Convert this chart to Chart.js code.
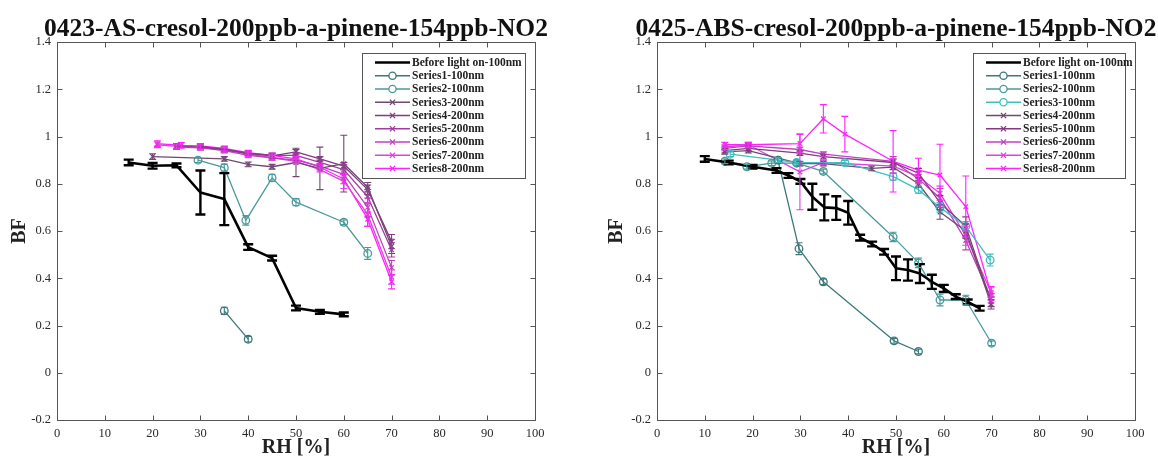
<!DOCTYPE html>
<html><head><meta charset="utf-8">
<script src="https://cdn.jsdelivr.net/npm/chart.js@4.4.1/dist/chart.umd.min.js"></script>
<style>
html,body{margin:0;padding:0;background:#fff;overflow:hidden}
#wrap{position:relative;width:1158px;height:464px}
canvas{position:absolute;top:0}
</style></head><body>
<div id="wrap">
<canvas id="c1" width="579" height="464" style="left:0"></canvas>
<canvas id="c2" width="579" height="464" style="left:579px"></canvas>
</div>
<script>
const FONT = '"Liberation Serif","Times New Roman",serif';

// ---- axis ticks ----
const xTickVals = [0,10,20,30,40,50,60,70,80,90,100];
const yTickVals = [-0.2,0,0.2,0.4,0.6,0.8,1,1.2,1.4];

// ---- titles / labels ----
const titleLeft  = '0423-AS-cresol-200ppb-a-pinene-154ppb-NO2';
const titleRight = '0425-ABS-cresol-200ppb-a-pinene-154ppb-NO2';
const xLabel = 'RH [%]';
const yLabel = 'BF';

// ---- LEFT chart data ----
const L_before_x = [15,20,25,30,35,40,45,50,55,60];
const L_before_y = [0.89,0.876,0.878,0.763,0.735,0.532,0.485,0.274,0.258,0.247];
const L_before_e = [0.012,0.012,0.008,0.093,0.11,0.012,0.01,0.01,0.008,0.008];

const L_s1_x = [35,40];
const L_s1_y = [0.262,0.142];
const L_s1_e = [0.015,0.012];

const L_s2_x = [29.5,35,39.5,45,50,60,65];
const L_s2_y = [0.9,0.868,0.645,0.825,0.722,0.637,0.505];
const L_s2_e = [0.01,0.015,0.02,0.015,0.015,0.01,0.025];

const L_s3_x = [20,35,40,45,50,55,60,65,70];
const L_s3_y = [0.915,0.905,0.882,0.872,0.89,0.865,0.885,0.785,0.535];
const L_s3_e = [0.012,0.01,0.01,0.01,0.06,0.09,0.12,0.02,0.03];

const L_s4_x = [30,35,40,45,50,55,60,65,70];
const L_s4_y = [0.958,0.945,0.928,0.918,0.935,0.905,0.875,0.775,0.555];
const L_s4_e = [0.01,0.01,0.01,0.01,0.01,0.01,0.015,0.02,0.03];

const L_s5_x = [25,30,35,40,45,50,55,60,65,70];
const L_s5_y = [0.96,0.955,0.945,0.93,0.92,0.92,0.89,0.86,0.745,0.52];
const L_s5_e = [0.01,0.01,0.01,0.01,0.01,0.01,0.01,0.02,0.03,0.03];

const L_s6_x = [25,30,35,40,45,50,55,60,65,70];
const L_s6_y = [0.955,0.952,0.94,0.92,0.91,0.9,0.875,0.84,0.70,0.445];
const L_s6_e = [0.01,0.01,0.01,0.01,0.01,0.01,0.01,0.02,0.04,0.03];

const L_s7_x = [21,25,30,35,40,45,50,55,60,65,70];
const L_s7_y = [0.965,0.958,0.955,0.944,0.925,0.91,0.895,0.86,0.81,0.67,0.405];
const L_s7_e = [0.012,0.01,0.01,0.01,0.01,0.01,0.01,0.01,0.03,0.05,0.03];

const L_s8_x = [21,26,30,35,40,45,50,55,60,65,70];
const L_s8_y = [0.97,0.962,0.96,0.95,0.932,0.92,0.905,0.87,0.82,0.65,0.385];
const L_s8_e = [0.012,0.012,0.01,0.01,0.01,0.01,0.01,0.01,0.02,0.03,0.03];

// ---- RIGHT chart data ----
const R_before_x = [10,15,20,25,27.5,30,32.5,35,37.5,40,42.5,45,47.5,50,52.5,55,57.5,60,62.5,65,67.5];
const R_before_y = [0.905,0.89,0.872,0.856,0.835,0.81,0.745,0.70,0.697,0.677,0.572,0.545,0.512,0.442,0.435,0.42,0.385,0.357,0.322,0.30,0.273];
const R_before_e = [0.012,0.008,0.008,0.01,0.01,0.01,0.055,0.055,0.05,0.05,0.012,0.01,0.012,0.05,0.045,0.04,0.03,0.015,0.01,0.01,0.01];

const R_s1_x = [25.3,29.7,34.8,49.6,54.7];
const R_s1_y = [0.9,0.525,0.385,0.135,0.09];
const R_s1_e = [0.01,0.025,0.012,0.01,0.01];

const R_s2_x = [14.2,18.8,24,29.2,34.8,49.4,54.7,59.2,64.6,70];
const R_s2_y = [0.895,0.872,0.887,0.887,0.852,0.575,0.465,0.308,0.308,0.125];
const R_s2_e = [0.01,0.01,0.01,0.01,0.01,0.02,0.02,0.025,0.02,0.01];

const R_s3_x = [15.3,25.4,29.2,39.3,49.4,54.7,59.2,64.6,69.7];
const R_s3_y = [0.925,0.9,0.89,0.889,0.83,0.775,0.70,0.62,0.477];
const R_s3_e = [0.01,0.01,0.01,0.01,0.015,0.015,0.02,0.02,0.025];

const R_s4_x = [14.2,19.1,29.9,34.8,44.9,49.4,54.7,59.2,64.6,69.9];
const R_s4_y = [0.935,0.94,0.885,0.885,0.865,0.87,0.80,0.68,0.60,0.29];
const R_s4_e = [0.01,0.01,0.01,0.01,0.01,0.01,0.015,0.03,0.03,0.02];

const R_s5_x = [14.2,19.1,29.9,34.8,49.4,54.7,59.2,64.6,69.9];
const R_s5_y = [0.94,0.95,0.93,0.915,0.89,0.845,0.72,0.62,0.30];
const R_s5_e = [0.01,0.01,0.01,0.01,0.015,0.02,0.03,0.04,0.02];

const R_s6_x = [14.2,19.1,29.9,34.8,49.4,54.7,59.2,64.6,69.9];
const R_s6_y = [0.95,0.96,0.945,0.925,0.895,0.82,0.74,0.56,0.315];
const R_s6_e = [0.01,0.01,0.01,0.01,0.02,0.02,0.04,0.04,0.02];

const R_s7_x = [14.2,19.1,29.9,34.8,49.4,54.7,59.2,64.6,69.9];
const R_s7_y = [0.955,0.965,0.85,0.89,0.875,0.83,0.76,0.58,0.34];
const R_s7_e = [0.01,0.01,0.16,0.01,0.03,0.02,0.03,0.04,0.02];

const R_s8_x = [14.2,19.1,29.9,34.8,39.3,49.4,54.7,59.2,64.6,69.9];
const R_s8_y = [0.965,0.965,0.97,1.075,1.01,0.895,0.858,0.837,0.703,0.335];
const R_s8_e = [0.01,0.01,0.04,0.06,0.075,0.13,0.05,0.13,0.13,0.03];

// ---- colours ----
const C_BLACK = '#000000';
const C_T1 = '#3d7878', C_T2 = '#4a9a9a', C_T3 = '#3fbfbf';
const C_P = ['#704870','#85397f','#a03ca0','#c040c0','#e040e0','#ff22ff'];

function ds(label, xs, ys, es, color, kind){
  return {
    label, kind, errors: es,
    data: xs.map((x,i)=>({x:x, y:ys[i]})),
    borderColor: color, backgroundColor: color,
    pointBorderColor: color, pointBackgroundColor: 'rgba(0,0,0,0)',
    borderWidth: kind==='black' ? 2.6 : 1.3,
    pointStyle: kind==='circle' ? 'circle' : 'crossRot',
    pointRadius: kind==='black' ? 0 : (kind==='circle' ? 3.8 : 3.2),
    pointBorderWidth: 1.3, pointHoverRadius: 0,
    tension: 0, fill: false
  };
}

// ---- plugins ----
const boxPlugin = {
  id:'boxTicks',
  afterDatasetsDraw(chart){
    const {ctx, chartArea:a, scales:{x,y}} = chart;
    ctx.save();
    ctx.strokeStyle = '#555'; ctx.lineWidth = 1;
    const L = Math.round(a.left)+0.5, R = Math.round(a.right)+0.5, T = Math.round(a.top)+0.5, B = Math.round(a.bottom)+0.5;
    ctx.strokeRect(L, T, R-L, B-T);
    ctx.beginPath();
    x.ticks.forEach(t=>{ const p = Math.round(x.getPixelForValue(t.value))+0.5;
      ctx.moveTo(p,B); ctx.lineTo(p,B-5); ctx.moveTo(p,T); ctx.lineTo(p,T+5); });
    y.ticks.forEach(t=>{ const p = Math.round(y.getPixelForValue(t.value))+0.5;
      ctx.moveTo(L,p); ctx.lineTo(L+5,p); ctx.moveTo(R,p); ctx.lineTo(R-5,p); });
    ctx.stroke();
    ctx.restore();
  }
};

const errPlugin = {
  id:'errBars',
  afterDatasetsDraw(chart){
    const {ctx} = chart; const ys = chart.scales.y;
    chart.data.datasets.forEach((d,di)=>{
      if(!d.errors) return;
      const meta = chart.getDatasetMeta(di);
      ctx.save();
      ctx.strokeStyle = d.borderColor;
      ctx.lineWidth = d.kind==='black' ? 2.4 : 1.1;
      const cap = d.kind==='black' ? 5 : 3.5;
      meta.data.forEach((pt,i)=>{
        const e = d.errors[i]; if(!e) return;
        const v = d.data[i].y;
        const y1 = ys.getPixelForValue(v+e), y2 = ys.getPixelForValue(v-e), px = pt.x;
        ctx.beginPath();
        ctx.moveTo(px,y1); ctx.lineTo(px,y2);
        ctx.moveTo(px-cap,y1); ctx.lineTo(px+cap,y1);
        ctx.moveTo(px-cap,y2); ctx.lineTo(px+cap,y2);
        ctx.stroke();
      });
      ctx.restore();
    });
  }
};

const titlePlugin = {
  id:'ttl',
  afterDraw(chart, args, o){
    const {ctx, chartArea:a} = chart;
    ctx.save();
    ctx.font = 'bold ' + o.size + 'px ' + FONT;
    ctx.fillStyle = '#111';
    ctx.textAlign = 'center'; ctx.textBaseline = 'alphabetic';
    ctx.fillText(o.text, (a.left+a.right)/2, o.y);
    ctx.restore();
  }
};

const legendPlugin = {
  id:'lg',
  afterDraw(chart, args, o){
    const {ctx, chartArea:a} = chart;
    const bx = a.right - o.inset - o.w, by = a.top + o.top;
    ctx.save();
    ctx.fillStyle = '#fff';
    ctx.fillRect(bx, by, o.w, o.h);
    ctx.strokeStyle = '#555'; ctx.lineWidth = 1;
    ctx.strokeRect(Math.round(bx)+0.5, Math.round(by)+0.5, o.w, o.h);
    ctx.font = 'bold 11.5px ' + FONT;
    ctx.textBaseline = 'middle'; ctx.textAlign = 'left';
    chart.data.datasets.forEach((d,i)=>{
      const yy = by + o.first + i*o.row;
      const x0 = bx + o.lx0, x1 = bx + o.lx1, xm = (x0+x1)/2;
      ctx.strokeStyle = d.borderColor;
      ctx.lineWidth = d.kind==='black' ? 2.6 : 1.3;
      ctx.beginPath(); ctx.moveTo(x0,yy); ctx.lineTo(x1,yy); ctx.stroke();
      if(d.kind==='circle'){
        ctx.beginPath(); ctx.fillStyle='#fff'; ctx.arc(xm,yy,3.6,0,Math.PI*2); ctx.fill(); ctx.stroke();
      } else if(d.kind==='cross'){
        ctx.beginPath(); ctx.moveTo(xm-2.6,yy-2.6); ctx.lineTo(xm+2.6,yy+2.6); ctx.moveTo(xm-2.6,yy+2.6); ctx.lineTo(xm+2.6,yy-2.6); ctx.stroke();
      }
      ctx.fillStyle = '#222';
      ctx.fillText(d.label, bx + o.tx, yy+0.5);
    });
    ctx.restore();
  }
};

function makeOptions(cfg){
  return {
    responsive:false, animation:false, devicePixelRatio:1,
    events: [],
    layout:{padding:{left:0, right:cfg.padRight, top:42, bottom:0}},
    elements:{line:{borderJoinStyle:'round'}},
    plugins:{
      legend:{display:false}, tooltip:{enabled:false}, title:{display:false},
      ttl:{text:cfg.title, size:25.5, y:36},
      lg:{inset:10, top:11, w:cfg.lw, h:125, first:9.5, row:13.25, lx0:13, lx1:48, tx:50}
    },
    scales:{
      x:{
        type:'linear', min:0, max:100,
        afterBuildTicks: s=>{ s.ticks = xTickVals.map(v=>({value:v})); },
        afterFit: s=>{ s.height = 44; },
        ticks:{font:{family:FONT, size:12.5}, color:'#2a2a2a', padding:6, maxRotation:0, autoSkip:false},
        grid:{display:false, drawTicks:false}, border:{display:false},
        title:{display:true, text:xLabel, color:'#222', font:{family:FONT, size:20, weight:'bold'}, padding:{top:0, bottom:4}}
      },
      y:{
        type:'linear', min:-0.2, max:1.4,
        afterBuildTicks: s=>{ s.ticks = yTickVals.map(v=>({value:v})); },
        afterFit: s=>{ s.width = cfg.yw; },
        ticks:{font:{family:FONT, size:12.5}, color:'#2a2a2a', padding:6, autoSkip:false,
          callback: v => String(Math.round(v*10)/10)},
        grid:{display:false, drawTicks:false}, border:{display:false},
        title:{display:true, text:yLabel, color:'#222', font:{family:FONT, size:20, weight:'bold'}, padding:{top:cfg.ytp, bottom:0}}
      }
    }
  };
}

const leftSets = [
  ds('Before light on-100nm', L_before_x, L_before_y, L_before_e, C_BLACK, 'black'),
  ds('Series1-100nm', L_s1_x, L_s1_y, L_s1_e, C_T1, 'circle'),
  ds('Series2-100nm', L_s2_x, L_s2_y, L_s2_e, C_T2, 'circle'),
  ds('Series3-200nm', L_s3_x, L_s3_y, L_s3_e, C_P[0], 'cross'),
  ds('Series4-200nm', L_s4_x, L_s4_y, L_s4_e, C_P[1], 'cross'),
  ds('Series5-200nm', L_s5_x, L_s5_y, L_s5_e, C_P[2], 'cross'),
  ds('Series6-200nm', L_s6_x, L_s6_y, L_s6_e, C_P[3], 'cross'),
  ds('Series7-200nm', L_s7_x, L_s7_y, L_s7_e, C_P[4], 'cross'),
  ds('Series8-200nm', L_s8_x, L_s8_y, L_s8_e, C_P[5], 'cross')
];

const rightSets = [
  ds('Before light on-100nm', R_before_x, R_before_y, R_before_e, C_BLACK, 'black'),
  ds('Series1-100nm', R_s1_x, R_s1_y, R_s1_e, C_T1, 'circle'),
  ds('Series2-100nm', R_s2_x, R_s2_y, R_s2_e, C_T2, 'circle'),
  ds('Series3-100nm', R_s3_x, R_s3_y, R_s3_e, C_T3, 'circle'),
  ds('Series4-200nm', R_s4_x, R_s4_y, R_s4_e, C_P[0], 'cross'),
  ds('Series5-100nm', R_s5_x, R_s5_y, R_s5_e, C_P[1], 'cross'),
  ds('Series6-200nm', R_s6_x, R_s6_y, R_s6_e, C_P[3], 'cross'),
  ds('Series7-200nm', R_s7_x, R_s7_y, R_s7_e, C_P[4], 'cross'),
  ds('Series8-200nm', R_s8_x, R_s8_y, R_s8_e, C_P[5], 'cross')
];

new Chart(document.getElementById('c1'), {
  type:'line', data:{datasets:leftSets},
  options: makeOptions({title:titleLeft, padRight:44, yw:57, ytp:8, lw:163}),
  plugins:[boxPlugin, errPlugin, titlePlugin, legendPlugin]
});
new Chart(document.getElementById('c2'), {
  type:'line', data:{datasets:rightSets},
  options: makeOptions({title:titleRight, padRight:23, yw:78, ytp:26, lw:152}),
  plugins:[boxPlugin, errPlugin, titlePlugin, legendPlugin]
});
</script>
</body></html>
